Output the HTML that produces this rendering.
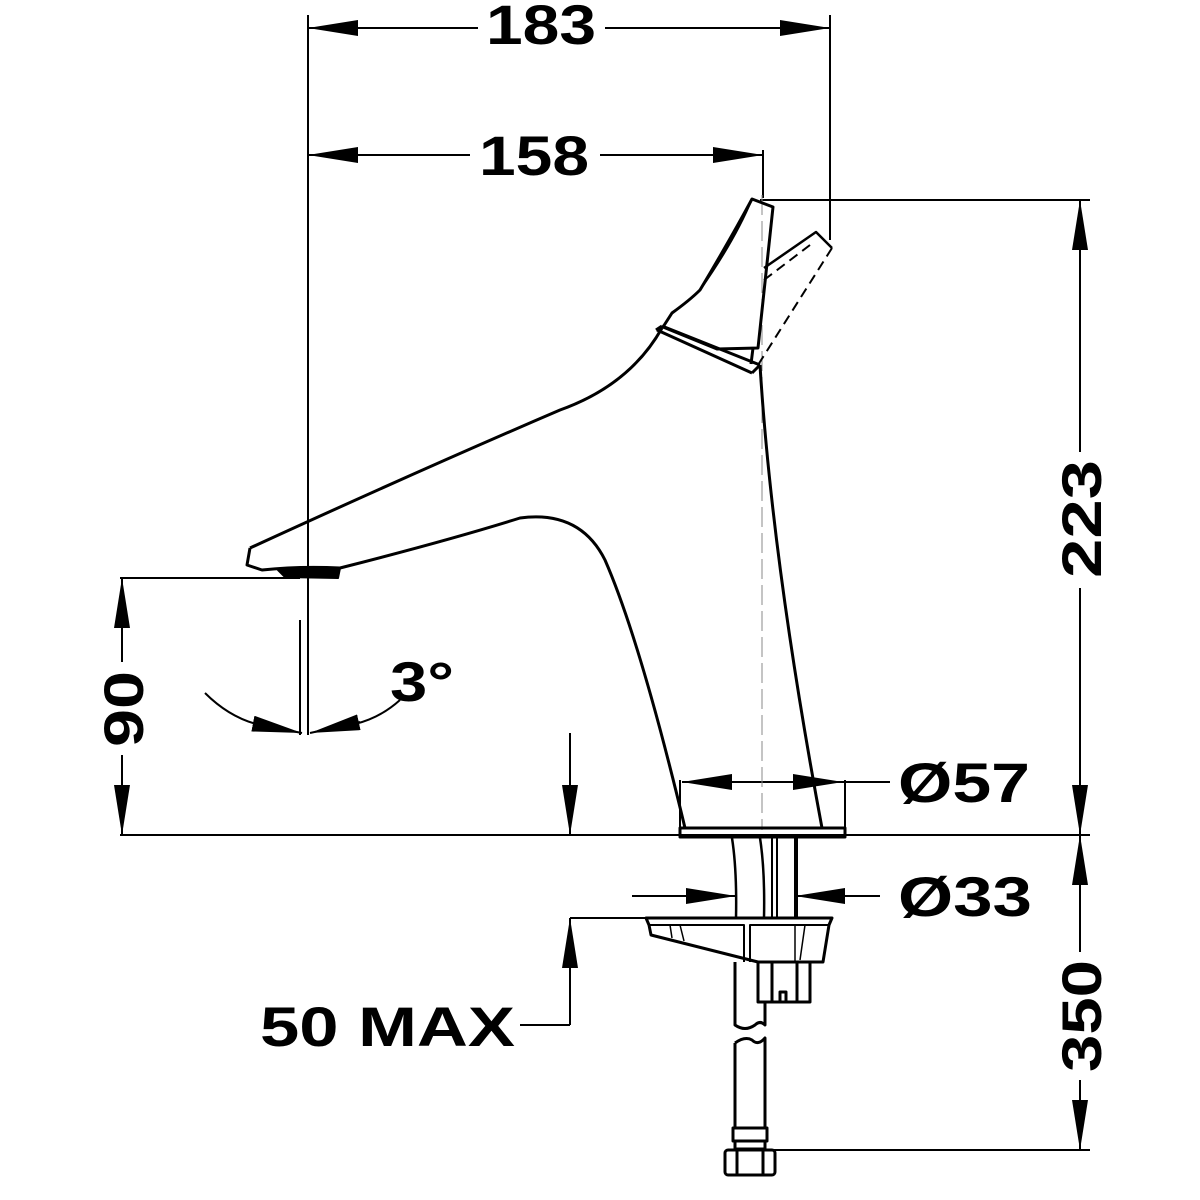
<!DOCTYPE html>
<html><head><style>body{margin:0;background:#fff}svg{display:block}text{font-family:"Liberation Sans",sans-serif;font-weight:bold;fill:#000}</style></head>
<body>
<svg width="1200" height="1200" viewBox="0 0 1200 1200" xmlns="http://www.w3.org/2000/svg">
<defs>
<marker id="a" viewBox="0 0 50 16" refX="50" refY="8" markerWidth="50" markerHeight="16" markerUnits="userSpaceOnUse" orient="auto"><path d="M0,0 L50,8 L0,16Z" fill="#000"/></marker>
</defs>
<g stroke="#000" stroke-width="2" fill="none">
<line x1="308" y1="15" x2="308" y2="735"/>
<line x1="830" y1="15" x2="830" y2="240"/>
<line x1="763" y1="150" x2="763" y2="198"/>
<line x1="760" y1="200" x2="1090" y2="200"/>
<line x1="120" y1="835" x2="1090" y2="835"/>
<line x1="120" y1="578" x2="300" y2="578"/>
<line x1="770" y1="1150" x2="1090" y2="1150"/>
<line x1="300" y1="620" x2="300" y2="735"/>
<line x1="360" y1="28" x2="478" y2="28"/><line x1="605" y1="28" x2="780" y2="28"/>
<line x1="360" y1="28" x2="308" y2="28" marker-end="url(#a)"/>
<line x1="780" y1="28" x2="830" y2="28" marker-end="url(#a)"/>
<line x1="360" y1="155" x2="470" y2="155"/><line x1="600" y1="155" x2="713" y2="155"/>
<line x1="360" y1="155" x2="308" y2="155" marker-end="url(#a)"/>
<line x1="713" y1="155" x2="763" y2="155" marker-end="url(#a)"/>
<line x1="1080" y1="250" x2="1080" y2="452"/><line x1="1080" y1="588" x2="1080" y2="785"/>
<line x1="1080" y1="250" x2="1080" y2="200" marker-end="url(#a)"/>
<line x1="1080" y1="785" x2="1080" y2="835" marker-end="url(#a)"/>
<line x1="1080" y1="885" x2="1080" y2="952"/><line x1="1080" y1="1080" x2="1080" y2="1100"/>
<line x1="1080" y1="885" x2="1080" y2="835" marker-end="url(#a)"/>
<line x1="1080" y1="1100" x2="1080" y2="1150" marker-end="url(#a)"/>
<line x1="122" y1="628" x2="122" y2="662"/><line x1="122" y1="755" x2="122" y2="785"/>
<line x1="122" y1="628" x2="122" y2="578" marker-end="url(#a)"/>
<line x1="122" y1="785" x2="122" y2="835" marker-end="url(#a)"/>
<path d="M205,693 Q230,718 260,725" /><line x1="255" y1="724" x2="302" y2="733" marker-end="url(#a)"/>
<path d="M400,700 Q380,718 355,724"/><line x1="360" y1="722" x2="310" y2="733" marker-end="url(#a)"/>
<line x1="730" y1="782" x2="793" y2="782"/><line x1="840" y1="782" x2="890" y2="782"/>
<line x1="730" y1="782" x2="682" y2="782" marker-end="url(#a)"/>
<line x1="793" y1="782" x2="843" y2="782" marker-end="url(#a)"/>
<line x1="680" y1="780" x2="680" y2="828"/><line x1="845" y1="780" x2="845" y2="828"/>
<line x1="632" y1="896" x2="690" y2="896"/><line x1="690" y1="896" x2="736" y2="896" marker-end="url(#a)"/>
<line x1="845" y1="896" x2="880" y2="896"/><line x1="845" y1="896" x2="795" y2="896" marker-end="url(#a)"/>
<line x1="570" y1="733" x2="570" y2="785"/><line x1="570" y1="785" x2="570" y2="835" marker-end="url(#a)"/>
<line x1="570" y1="968" x2="570" y2="1025"/><line x1="570" y1="968" x2="570" y2="918" marker-end="url(#a)"/>
<line x1="520" y1="1025" x2="570" y2="1025"/>
<line x1="570" y1="918" x2="650" y2="918"/>
<line x1="762" y1="195" x2="762" y2="830" stroke-width="1" stroke-dasharray="20,6" stroke="#888"/>
</g>
<g stroke="#000" stroke-width="3" fill="none" stroke-linejoin="round">
<path d="M250,548 Q420,470 560,410 Q630,385 662,328"/>
<path d="M250,548 L247,565 L262,570 Q300,566 340,568 Q450,540 520,518 Q580,510 605,560 Q640,640 685,828"/>
<path d="M760,365 Q772,560 822,828"/>
<path d="M278,570 L340,568 L338,578 L285,577Z" fill="#000" stroke-width="2"/>
<path d="M662,326 L760,365"/>
<path d="M657,330 L752,373"/>
<path d="M662,326 L656,330"/>
<path d="M752,373 L760,365"/>
<path d="M663,327 L672,313 Q690,300 700,290 Q730,240 752,199 L773,207 L758,348 L717,349 Z"/>
<path d="M700,290 Q735,240 752,199" stroke-width="2"/>
<path d="M753,348 L751,364"/>
<path d="M764,268 L816,232 L832,248" stroke-width="2.5"/>
<path d="M764,280 L810,245 M832,248 L758,365" stroke-width="2" stroke-dasharray="10,6"/>
<rect x="680" y="828" width="165" height="9"/>
<path d="M732,838 Q737,870 736,918 M760,838 Q765,870 764,918" stroke-width="2.5"/>
<path d="M772,838 L772,918 M777,838 L777,918 M795,838 L795,918 M797,838 L797,918" stroke-width="2"/>
<path d="M646,918 L832,918 L829,925 L823,962 L758,962 L651,935 L649,925 Z"/>
<path d="M650,925 L744,925 L744,962 M750,962 L750,925 L829,925" stroke-width="2"/>
<path d="M670,925 L672,938 M680,925 L684,941 M795,925 L795,962 M805,925 L800,960" stroke-width="1.5"/>
<path d="M758,962 L758,1002 L810,1002 L810,962 M772,962 L772,1002 M797,962 L797,1002 M780,1002 L780,992 L786,992 L786,1002"/>
<path d="M735,962 L735,1025 Q745,1032 755,1025 Q760,1020 765,1025 L765,1002"/>
<path d="M735,1043 Q745,1036 752,1040 Q758,1046 765,1038 L765,1128 M735,1043 L735,1128"/>
<rect x="733" y="1128" width="34" height="13"/>
<rect x="735" y="1141" width="30" height="8"/>
<rect x="725" y="1150" width="50" height="25" rx="3"/>
<path d="M737,1150 L737,1175 M763,1150 L763,1175"/>
</g>
<text x="486" y="44" font-size="56" textLength="110" lengthAdjust="spacingAndGlyphs">183</text>
<text x="479" y="175" font-size="56" textLength="110" lengthAdjust="spacingAndGlyphs">158</text>
<text x="390" y="701" font-size="56" textLength="64" lengthAdjust="spacingAndGlyphs">3°</text>
<text x="898" y="802" font-size="56" textLength="132" lengthAdjust="spacingAndGlyphs">Ø57</text>
<text x="898" y="916" font-size="56" textLength="134" lengthAdjust="spacingAndGlyphs">Ø33</text>
<text x="260" y="1046" font-size="56" textLength="255" lengthAdjust="spacingAndGlyphs">50 MAX</text>
<text transform="translate(1101,578) rotate(-90)" font-size="56" textLength="118" lengthAdjust="spacingAndGlyphs">223</text>
<text transform="translate(1101,1072) rotate(-90)" font-size="56" textLength="112" lengthAdjust="spacingAndGlyphs">350</text>
<text transform="translate(143,747) rotate(-90)" font-size="56" textLength="76" lengthAdjust="spacingAndGlyphs">90</text>
</svg>
</body></html>
